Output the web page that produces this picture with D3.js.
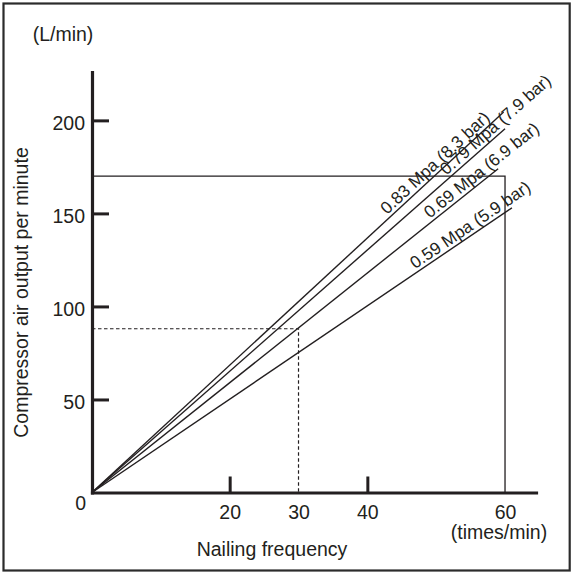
<!DOCTYPE html>
<html lang="en">
<head>
    <meta charset="UTF-8">
    <title>Compressor air output</title>
    <style>
        html,
        body {
            margin: 0;
            background: #fff;
        }
        text {
            font-family: "Liberation Sans", Arial, sans-serif;
            fill: #231f20;
        }
    </style>
</head>
<body>
<svg id="container"></svg>
<script src="https://cdn.jsdelivr.net/npm/d3@7"></script>
<script>
    // series: one straight line per pressure, from the origin to its end point
    const pressures = ['0.83 Mpa (8.3 bar)', '0.79 Mpa (7.9 bar)', '0.69 Mpa (6.9 bar)', '0.59 Mpa (5.9 bar)'];
    const endFreq = [59.8, 60, 59, 61];
    const endFlow = [204.5, 195.5, 174, 153];
    // nailing frequency where each label begins along its line
    const labelFreq = [43.2, 51.8, 49.4, 47.2];

    const yTicks = [50, 100, 150, 200];
    const xTickMarks = [20, 40];
    const xLabels = [20, 30, 40, 60];

    // reading guides
    const boxFreq = 60, boxFlow = 170;
    const exampleFreq = 30, exampleFlow = 88;

    const width = 574, height = 573;
    const ink = '#231f20';

    const svg = d3.select('#container')
        .attr('width', width)
        .attr('height', height);

    const xScale = d3.scaleLinear().domain([0, 64.5]).range([92, 536]);
    const yScale = d3.scaleLinear().domain([0, 226]).range([492.5, 72]);

    // outer frame
    svg.append('rect')
        .attr('x', 3.5).attr('y', 3.5)
        .attr('width', 566.2).attr('height', 567)
        .attr('fill', 'none')
        .attr('stroke', '#2b2b2b')
        .attr('stroke-width', 2.2);

    // guide lines
    const guides = svg.append('g').attr('fill', 'none').attr('stroke', ink).attr('stroke-width', 1.3);
    guides.append('path')
        .attr('d', `M${xScale(0)},${yScale(boxFlow)}H${xScale(boxFreq)}V${yScale(0)}`);
    guides.append('path')
        .attr('stroke-dasharray', '3.5,2.5')
        .attr('stroke-width', 1.2)
        .attr('d', `M${xScale(0)},${yScale(exampleFlow)}H${xScale(exampleFreq)}V${yScale(0)}`);

    // pressure lines
    const series = pressures.map((name, i) => ({
        name,
        points: [[0, 0], [endFreq[i], endFlow[i]]],
        labelAt: labelFreq[i],
        slope: endFlow[i] / endFreq[i]
    }));

    const line = d3.line().x(d => xScale(d[0])).y(d => yScale(d[1]));

    svg.append('g')
        .selectAll('path')
        .data(series)
        .join('path')
        .attr('d', d => line(d.points))
        .attr('fill', 'none')
        .attr('stroke', ink)
        .attr('stroke-width', 1.4);

    svg.append('g')
        .selectAll('text')
        .data(series)
        .join('text')
        .attr('transform', d => {
            const px = xScale(d.labelAt), py = yScale(d.labelAt * d.slope);
            const angle = Math.atan2(yScale(d.slope * 10) - yScale(0), xScale(10) - xScale(0)) * 180 / Math.PI;
            return `translate(${px},${py}) rotate(${angle})`;
        })
        .attr('dy', -3.5)
        .style('font-size', '17.2px')
        .text(d => d.name);

    // y axis
    const yAxis = d3.axisLeft(yScale)
        .tickValues(yTicks)
        .tickSizeInner(-17)
        .tickSizeOuter(0)
        .tickPadding(7);

    const yg = svg.append('g')
        .attr('transform', `translate(${xScale(0)},0)`)
        .call(yAxis);
    yg.select('.domain').attr('stroke', ink).attr('stroke-width', 3.2).attr('stroke-linecap', 'square');
    yg.selectAll('.tick line').attr('stroke', ink).attr('stroke-width', 3);
    yg.selectAll('.tick text')
        .attr('fill', ink)
        .attr('dy', '0.45em')
        .style('font-size', '19.5px')
        .style('font-family', '"Liberation Sans", Arial, sans-serif');

    // x axis
    const xAxis = d3.axisBottom(xScale)
        .tickValues(xLabels)
        .tickSizeInner(-16)
        .tickSizeOuter(0)
        .tickPadding(12.5);

    const xg = svg.append('g')
        .attr('transform', `translate(0,${yScale(0)})`)
        .call(xAxis);
    xg.select('.domain').attr('stroke', ink).attr('stroke-width', 3.2).attr('stroke-linecap', 'square');
    xg.selectAll('.tick line')
        .attr('stroke', ink)
        .attr('stroke-width', 3)
        .attr('y2', d => xTickMarks.includes(d) ? -16 : 0);
    xg.selectAll('.tick text')
        .attr('fill', ink)
        .style('font-size', '19.5px')
        .style('font-family', '"Liberation Sans", Arial, sans-serif');

    // axis titles and units
    svg.append('text')
        .attr('x', 86).attr('y', 510)
        .attr('text-anchor', 'end')
        .style('font-size', '19.5px')
        .text('0');

    svg.append('text')
        .attr('x', 63).attr('y', 41)
        .attr('text-anchor', 'middle')
        .style('font-size', '19.5px')
        .text('(L/min)');

    svg.append('text')
        .attr('x', 499).attr('y', 538.6)
        .attr('text-anchor', 'middle')
        .style('font-size', '19.5px')
        .text('(times/min)');

    svg.append('text')
        .attr('x', 272).attr('y', 555.5)
        .attr('text-anchor', 'middle')
        .style('font-size', '19.5px')
        .text('Nailing frequency');

    svg.append('text')
        .attr('transform', 'translate(28,292.5) rotate(-90)')
        .attr('text-anchor', 'middle')
        .style('font-size', '19.5px')
        .text('Compressor air output per minute');
</script>
</body>
</html>
